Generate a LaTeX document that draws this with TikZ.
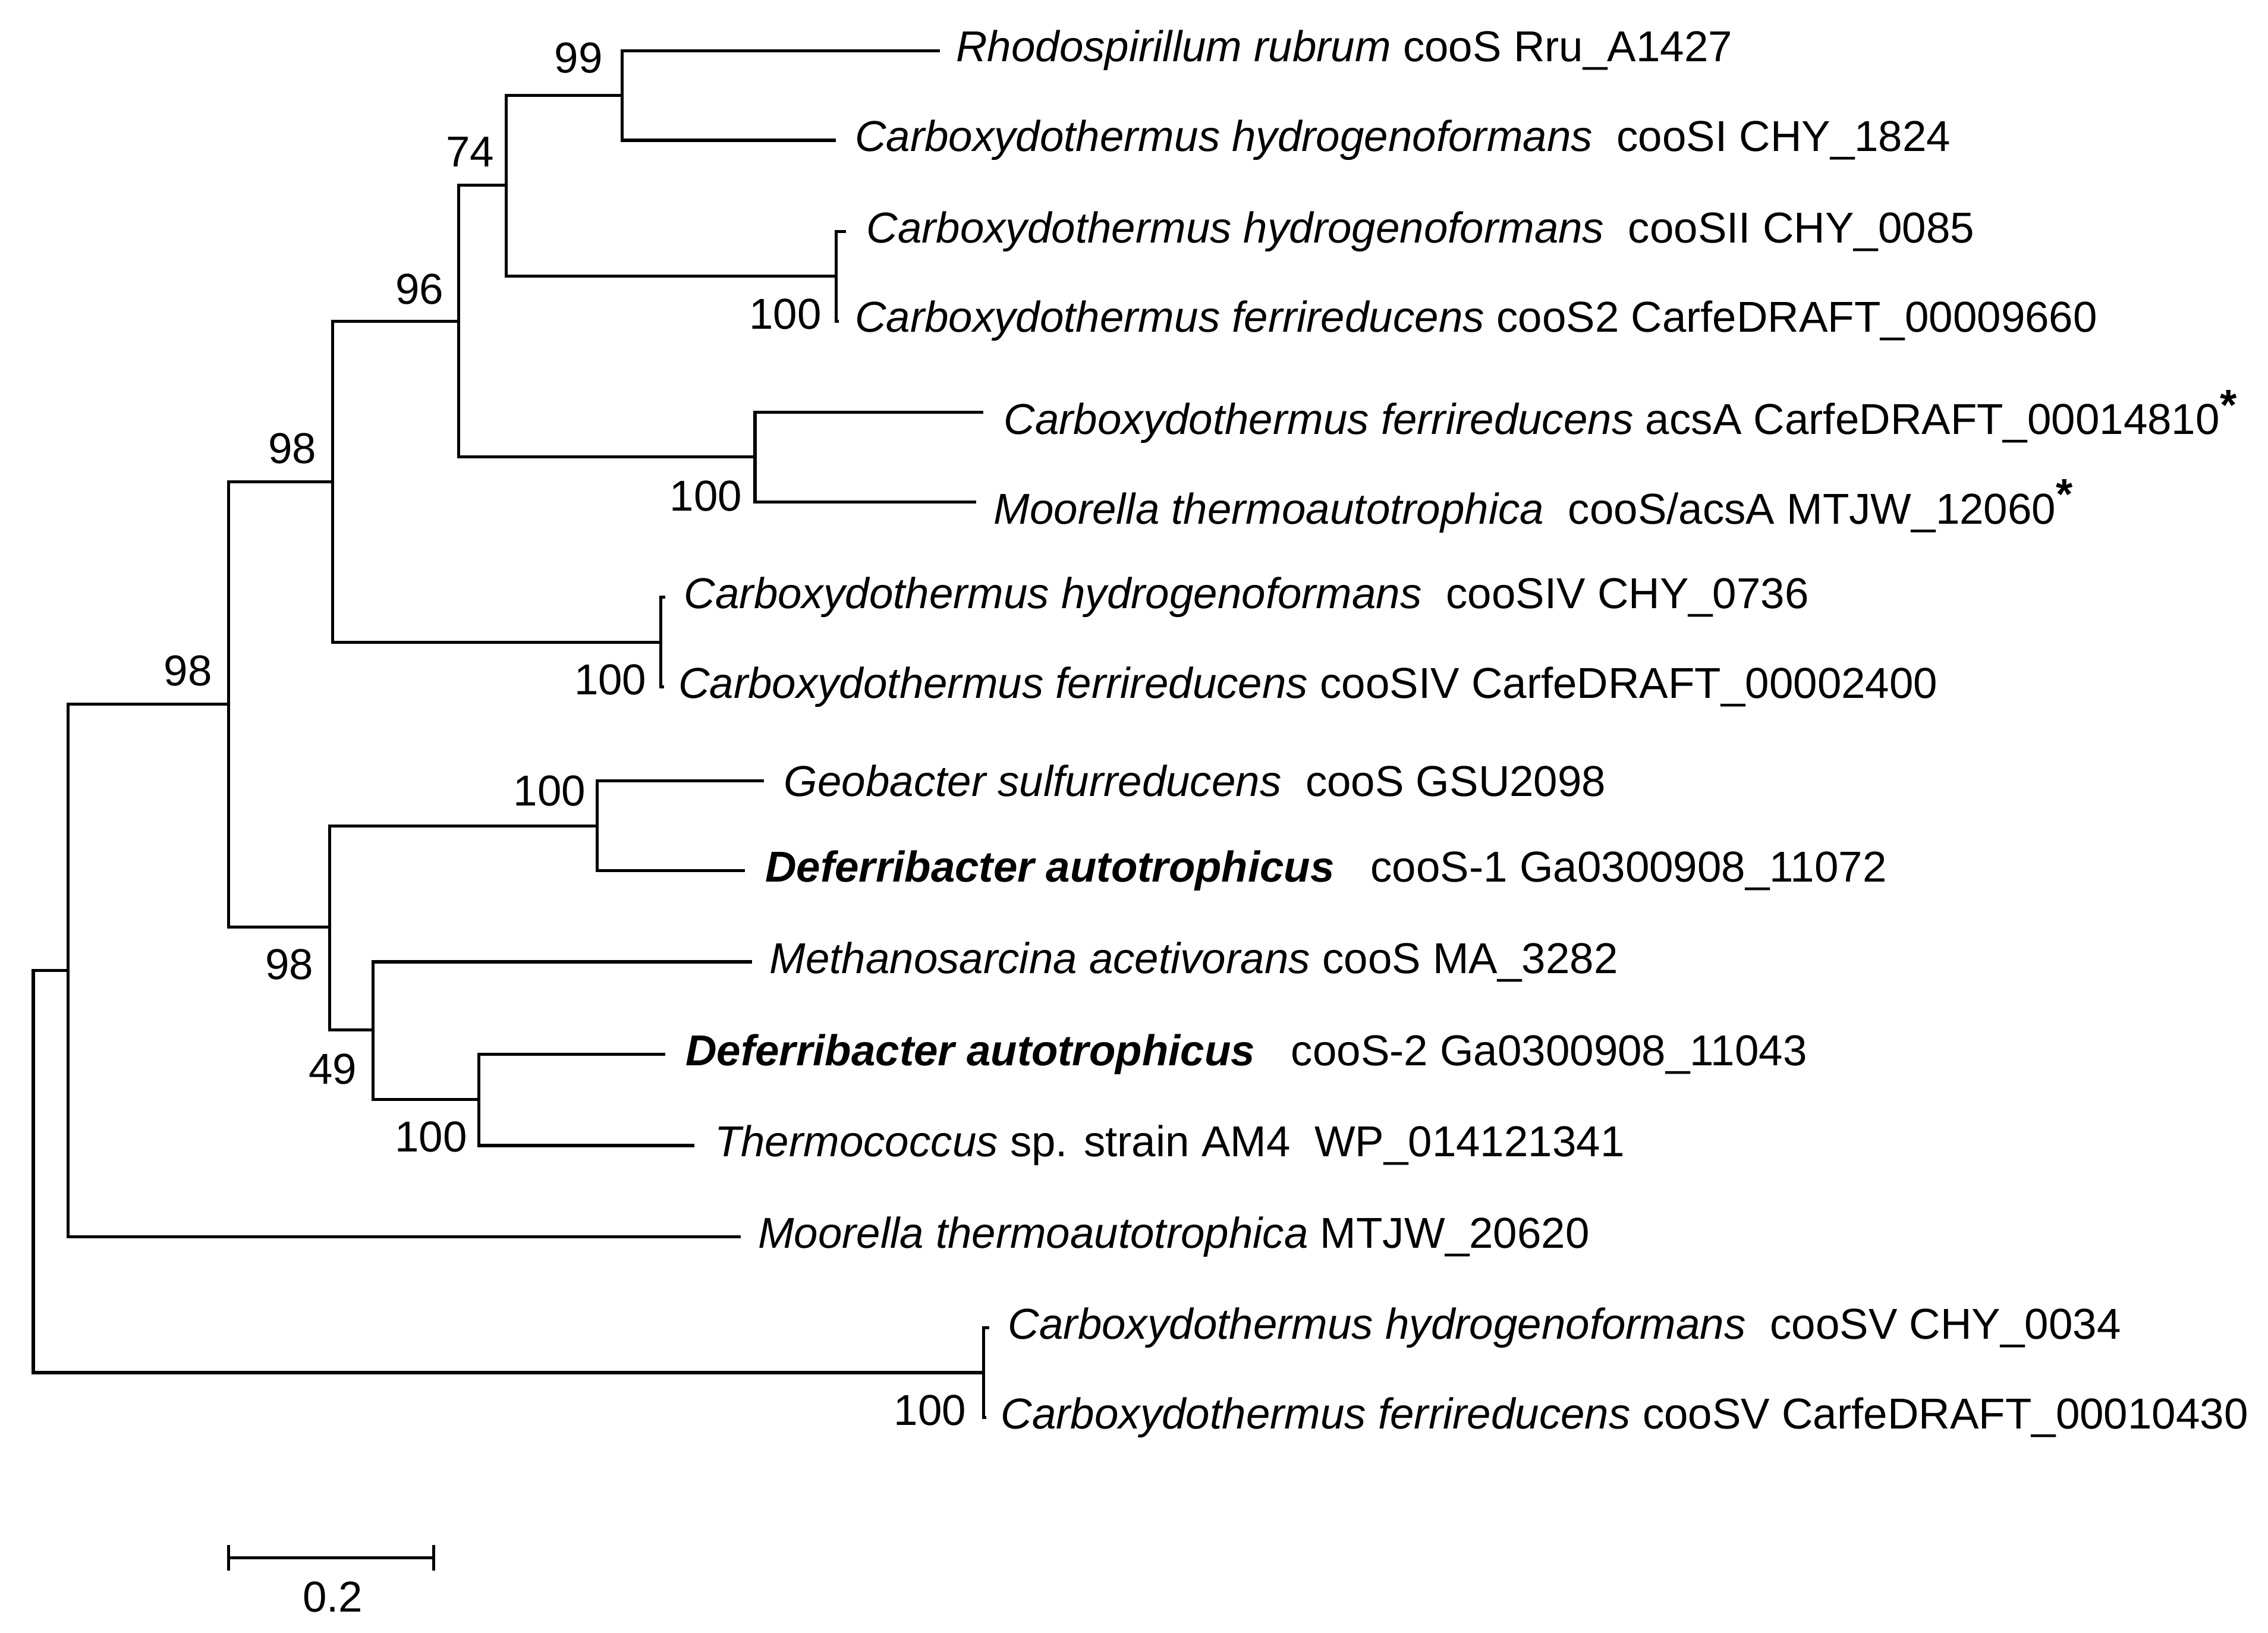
\documentclass[tikz,border=0pt]{standalone}
\usepackage{fontspec}
\setmainfont{Liberation Sans}
\begin{document}
\begin{tikzpicture}[x=0.01cm,y=-0.01cm,line width=0.6pt,
  lf/.style={anchor=west,inner sep=0pt,font=\fontsize{8.5}{9}\selectfont},
  bs/.style={inner sep=0pt,font=\fontsize{8.5}{9}\selectfont}]
\useasboundingbox (0,0) rectangle (1568,1129);
% leaf ends
\coordinate (e1) at (650,35);
\coordinate (e2) at (578,97);
\coordinate (e3) at (585,160);
\coordinate (e4) at (580,222);
\coordinate (e5) at (680,285);
\coordinate (e6) at (675,347);
\coordinate (e7) at (460,413);
\coordinate (e8) at (459,475);
\coordinate (e9) at (528,540);
\coordinate (e10) at (515,602);
\coordinate (e11) at (520,665);
\coordinate (e12) at (460,729);
\coordinate (e13) at (480,792);
\coordinate (e14) at (512,855);
\coordinate (e15) at (684,918);
\coordinate (e16) at (682,980);
% internal nodes
\coordinate (n99) at (430,66);
\coordinate (n34) at (578,191);
\coordinate (n74) at (350,128);
\coordinate (n56) at (522,316);
\coordinate (n96) at (317,222);
\coordinate (n78) at (457,444);
\coordinate (n98a) at (230,333);
\coordinate (nb) at (413,571);
\coordinate (nc) at (331,760);
\coordinate (n49) at (258,712);
\coordinate (n98b) at (228,641);
\coordinate (n98c) at (158,487);
\coordinate (nr1) at (47,671);
\coordinate (nd) at (680,949);
\coordinate (root) at (23,810);
% edges
\draw (n99) |- (e1); \draw (n99) |- (e2);
\draw (n34) |- (e3); \draw (n34) |- (e4);
\draw (n74) |- (n99); \draw (n74) |- (n34);
\draw (n56) |- (e5); \draw (n56) |- (e6);
\draw (n96) |- (n74); \draw (n96) |- (n56);
\draw (n78) |- (e7); \draw (n78) |- (e8);
\draw (n98a) |- (n96); \draw (n98a) |- (n78);
\draw (nb) |- (e9); \draw (nb) |- (e10);
\draw (nc) |- (e12); \draw (nc) |- (e13);
\draw (n49) |- (e11); \draw (n49) |- (nc);
\draw (n98b) |- (nb); \draw (n98b) |- (n49);
\draw (n98c) |- (n98a); \draw (n98c) |- (n98b);
\draw (nr1) |- (n98c); \draw (nr1) |- (e14);
\draw (nd) |- (e15); \draw (nd) |- (e16);
\draw (root) |- (nr1); \draw (root) |- (nd);
% bootstrap labels
\node[bs] (b1) at (400,40) {99};
\node[bs] (b2) at (543,217) {100};
\node[bs] (b3) at (325,105) {74};
\node[bs] (b4) at (488,343) {100};
\node[bs] (b5) at (290,200) {96};
\node[bs] (b6) at (422,470) {100};
\node[bs] (b7) at (202,310) {98};
\node[bs] (b8) at (380,547) {100};
\node[bs] (b9) at (298,786) {100};
\node[bs] (b10) at (230,739) {49};
\node[bs] (b11) at (200,667) {98};
\node[bs] (b12) at (130,464) {98};
\node[bs] (b13) at (643,975) {100};
% leaf labels
\node[lf] (t1) at (660,35) {\textit{Rhodospirillum rubrum} cooS Rru\_A1427};
\node[lf] (t2) at (590,97) {\textit{Carboxydothermus hydrogenoformans}\ \ cooSI CHY\_1824};
\node[lf] (t3) at (598,160) {\textit{Carboxydothermus hydrogenoformans}\ \ cooSII CHY\_0085};
\node[lf] (t4) at (590,222) {\textit{Carboxydothermus ferrireducens} cooS2 CarfeDRAFT\_00009660};
\node[lf] (t5) at (693,288) {\textit{Carboxydothermus ferrireducens} acsA CarfeDRAFT\_00014810$^{\textbf{*}}$};
\node[lf] (t6) at (686,350) {\textit{Moorella thermoautotrophica}\ \ cooS/acsA MTJW\_12060$^{\textbf{*}}$};
\node[lf] (t7) at (472,413) {\textit{Carboxydothermus hydrogenoformans}\ \ cooSIV CHY\_0736};
\node[lf] (t8) at (468,475) {\textit{Carboxydothermus ferrireducens} cooSIV CarfeDRAFT\_00002400};
\node[lf] (t9) at (541,540) {\textit{Geobacter sulfurreducens}\ \ cooS GSU2098};
\node[lf] (t10) at (528,602) {\textbf{\textit{Deferribacter autotrophicus}}\ \ \ cooS-1 Ga0300908\_11072};
\node[lf] (t11) at (531,665) {\textit{Methanosarcina acetivorans} cooS MA\_3282};
\node[lf] (t12) at (473,729) {\textbf{\textit{Deferribacter autotrophicus}}\ \ \ cooS-2 Ga0300908\_11043};
\node[lf] (t13) at (493,792) {\textit{Thermococcus} sp. strain AM4\ \ WP\_014121341};
\node[lf] (t14) at (523,855) {\textit{Moorella thermoautotrophica} MTJW\_20620};
\node[lf] (t15) at (696,918) {\textit{Carboxydothermus hydrogenoformans}\ \ cooSV CHY\_0034};
\node[lf] (t16) at (691,980) {\textit{Carboxydothermus ferrireducens} cooSV CarfeDRAFT\_00010430};
% scale bar
\coordinate (s1) at (158,1077); \coordinate (s2) at (300,1077);
\draw (s1) -- (s2);
\draw ([yshift=-0.09cm]s1) -- ([yshift=0.09cm]s1);
\draw ([yshift=-0.09cm]s2) -- ([yshift=0.09cm]s2);
\node[bs] (sl) at (230,1104) {0.2};
\end{tikzpicture}
\end{document}
